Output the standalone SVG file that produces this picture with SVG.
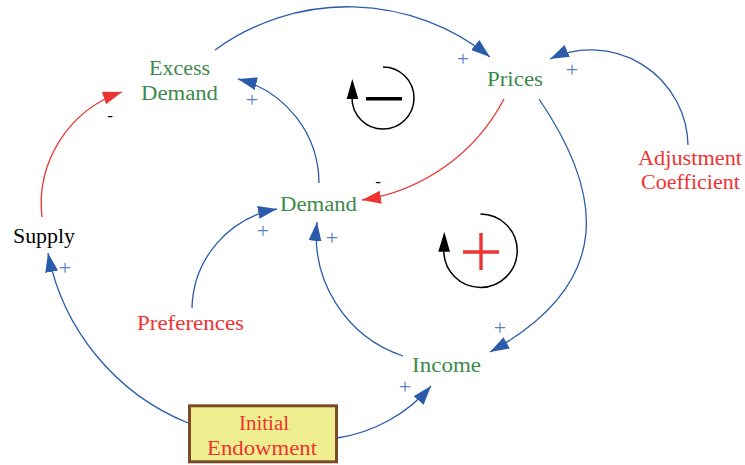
<svg xmlns="http://www.w3.org/2000/svg" width="745" height="465" viewBox="0 0 745 465">
<style>
text{font-family:"Liberation Serif","Times New Roman",serif;font-size:20px}
.g{fill:#3d8a4b}
.r{fill:#ee3333}
.k{fill:#000}
.pl{fill:#5a7fc2;font-size:22px;text-anchor:middle}
.mn{fill:#000;font-size:17px;text-anchor:middle}
.cb{fill:none;stroke:#2b5cab;stroke-width:1.3}
.cr{fill:none;stroke:#ee3333;stroke-width:1.3}
.loop{fill:none;stroke:#000;stroke-width:1.5}
</style>
<defs>
<marker id="ab" markerUnits="userSpaceOnUse" markerWidth="20" markerHeight="14" refX="19" refY="6.5" orient="auto"><path d="M0,0 L19,6.5 L0,13 Z" fill="#2b5cab"/></marker>
<marker id="ar" markerUnits="userSpaceOnUse" markerWidth="20" markerHeight="14" refX="19" refY="6.5" orient="auto"><path d="M0,0 L19,6.5 L0,13 Z" fill="#ee3333"/></marker>
</defs>
<rect width="745" height="465" fill="#fff"/>
<g id="connectors">
<path class="cb" d="M215,50 A226,226 0 0,1 490,57" marker-end="url(#ab)"/>
<path class="cr" d="M504,99 A192,192 0 0,1 362,200" marker-end="url(#ar)"/>
<path class="cb" d="M319,183 A108,108 0 0,0 238,79" marker-end="url(#ab)"/>
<path class="cr" d="M42,217 A118,118 0 0,1 122,92" marker-end="url(#ar)"/>
<path class="cb" d="M539,99 C603,193 616,283 490,352" marker-end="url(#ab)"/>
<path class="cb" d="M188,423 A231,231 0 0,1 48,253" marker-end="url(#ab)"/>
<path class="cb" d="M337,438 A153,153 0 0,0 431,386" marker-end="url(#ab)"/>
<path class="cb" d="M192,308 A103,103 0 0,1 277,209" marker-end="url(#ab)"/>
<path class="cb" d="M403,356 A127,127 0 0,1 317,222" marker-end="url(#ab)"/>
<path class="cb" d="M688,145 A97,97 0 0,0 550,59" marker-end="url(#ab)"/>
<text class="pl" x="463" y="65.5">+</text>
<text class="pl" x="252" y="106.5">+</text>
<text class="pl" x="572" y="76.5">+</text>
<text class="pl" x="263" y="237.5">+</text>
<text class="pl" x="332" y="244.5">+</text>
<text class="pl" x="65" y="274.5">+</text>
<text class="pl" x="500" y="334.5">+</text>
<text class="pl" x="405" y="393.5">+</text>
<text class="mn" x="110" y="121">-</text>
<text class="mn" x="378" y="187">-</text>
</g>
<g id="loop-negative">
<path class="loop" d="M383,67 A31,31 0 1,1 352,98"/>
<path d="M346.7,99 L352.3,79 L358.3,99 Z" fill="#000"/>
<line x1="366" y1="98.7" x2="402" y2="98.7" stroke="#000" stroke-width="3.6"/>
</g>
<g id="loop-positive">
<path class="loop" d="M480.5,214 A36.7,36.7 0 1,1 443.8,250.8"/>
<path d="M438.3,251.7 L444.3,231.7 L450,251.7 Z" fill="#000"/>
<line x1="463" y1="252" x2="499" y2="252" stroke="#ee3333" stroke-width="3.4"/>
<line x1="481" y1="233" x2="481" y2="270" stroke="#ee3333" stroke-width="3.4"/>
</g>
<g id="excess-demand">
<text class="g" x="149" y="75" textLength="61" lengthAdjust="spacingAndGlyphs">Excess</text>
<text class="g" x="141" y="100" textLength="77" lengthAdjust="spacingAndGlyphs">Demand</text>
</g>
<g id="prices"><text class="g" x="487" y="86" textLength="56" lengthAdjust="spacingAndGlyphs">Prices</text></g>
<g id="demand"><text class="g" x="280" y="211" textLength="77" lengthAdjust="spacingAndGlyphs">Demand</text></g>
<g id="supply"><text class="k" x="13" y="243" textLength="62" lengthAdjust="spacingAndGlyphs">Supply</text></g>
<g id="preferences"><text class="r" x="137" y="330" textLength="107" lengthAdjust="spacingAndGlyphs">Preferences</text></g>
<g id="income"><text class="g" x="412" y="372" textLength="69" lengthAdjust="spacingAndGlyphs">Income</text></g>
<g id="adjustment-coefficient">
<text class="r" x="638" y="165" textLength="104" lengthAdjust="spacingAndGlyphs">Adjustment</text>
<text class="r" x="641" y="189" textLength="99" lengthAdjust="spacingAndGlyphs">Coefficient</text>
</g>
<g id="initial-endowment">
<rect x="189.5" y="405.8" width="147" height="56" fill="#eeee8e" stroke="#7b4a2a" stroke-width="3"/>
<text class="r" x="239" y="430" textLength="50" lengthAdjust="spacingAndGlyphs">Initial</text>
<text class="r" x="207" y="455" textLength="110" lengthAdjust="spacingAndGlyphs">Endowment</text>
</g>
</svg>
